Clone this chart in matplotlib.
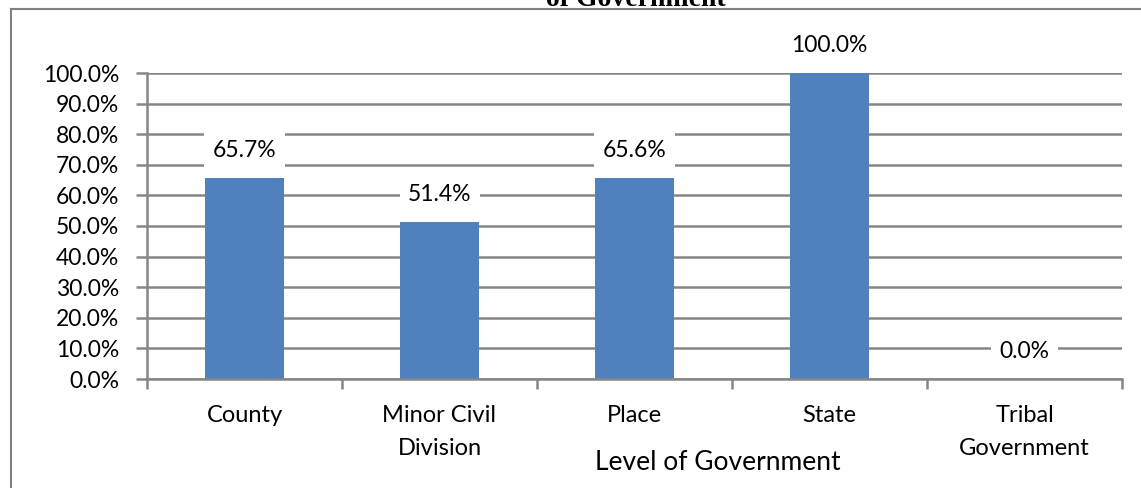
import matplotlib.pyplot as plt
import numpy as np
from matplotlib.lines import Line2D

categories = ['County', 'Minor Civil\nDivision', 'Place', 'State', 'Tribal\nGovernment']
values = [65.7, 51.4, 65.6, 100.0, 0.0]
yticks = [0, 10, 20, 30, 40, 50, 60, 70, 80, 90, 100]

plt.rcParams['font.family'] = ['Lato', 'DejaVu Sans']

fig = plt.figure(figsize=(11.41, 4.88), dpi=100)
ax = fig.add_axes([147 / 1141, 1 - 379 / 488, 975 / 1141, 306 / 488])

grid_color = '#868686'
x = np.arange(len(categories))
ax.bar(x, values, width=0.405, color='#4f81bd', zorder=2)

for xi, v in zip(x, values):
    ax.text(xi, v + 9.0, f'{v:.1f}%', ha='center', va='center', fontsize=16.5,
            zorder=4, bbox=dict(facecolor='white', edgecolor='none', pad=6))

ax.set_xlim(-0.5, len(categories) - 0.5)
ax.set_ylim(0, 100)
ax.set_yticks(yticks)
ax.set_yticklabels([f'{t:.1f}%' for t in yticks], fontsize=16.5)
ax.yaxis.grid(True, color=grid_color, linewidth=1.8, zorder=0)
ax.set_axisbelow(True)

ax.set_xticks(x)
ax.set_xticklabels(categories, fontsize=17, linespacing=1.7)
ax.set_xticks(np.arange(len(categories) + 1) - 0.5, minor=True)
ax.tick_params(axis='x', which='major', length=0, pad=19)
ax.tick_params(axis='x', which='minor', length=7, width=1.8, color=grid_color)
ax.tick_params(axis='y', length=8, width=1.8, color=grid_color, pad=12)

for s in ['top', 'right']:
    ax.spines[s].set_visible(False)
for s in ['left', 'bottom']:
    ax.spines[s].set_color(grid_color)
    ax.spines[s].set_linewidth(1.8)

ax.set_xlabel('Level of Government', fontsize=19)
ax.xaxis.set_label_coords((718 - 147) / 975, -(463 - 379) / 306, transform=ax.transAxes)
ax.xaxis.label.set_va('center')

# outer frame of the chart area
fig.add_artist(Line2D([11 / 1141, 11 / 1141], [0, 1 - 9 / 488], color='#808080', linewidth=1.5))
fig.add_artist(Line2D([11 / 1141, 1], [1 - 9 / 488, 1 - 9 / 488], color='#808080', linewidth=1.5))

# title, cut off at the top of the image
fig.text(636 / 1141, 1 - 6 / 488, 'of Government', ha='center', va='baseline',
         fontsize=20, fontweight='bold', family='Liberation Serif')

fig.savefig('out.png', dpi=100)
